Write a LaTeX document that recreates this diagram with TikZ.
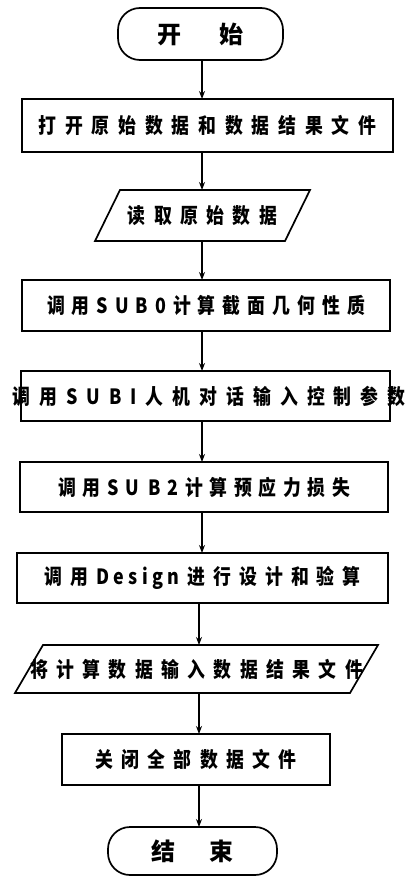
\documentclass[tikz,border=0pt]{standalone}
\usepackage{fontspec}
\usetikzlibrary{arrows.meta}
\newfontfamily\cjk{Noto Sans CJK SC}[FakeStretch=0.85]
\newfontfamily\cjkw{Noto Sans CJK SC}
\newlength\chgap
\newcommand\sgap{\hspace{-3pt}}
\makeatletter
\def\spc#1#2{\setlength\chgap{#1}\spc@first#2\relax}
\def\spc@first#1{#1\spc@rest}
\def\spc@rest#1{\ifx\relax#1\else\hspace{\chgap}#1\expandafter\spc@rest\fi}
\makeatother
\begin{document}
\begin{tikzpicture}[x=1pt,y=-1pt,
  every node/.style={inner sep=0pt,outer sep=0pt},
  outline/.style={line width=1.7pt,line join=miter},
  boxfont/.style={font=\cjk\bfseries\fontsize{21}{24}\selectfont},
  procbox/.style={draw,outline,minimum height=50pt,boxfont},
  iotext/.style={minimum height=50pt,boxfont},
  termbox/.style={draw,outline,rounded corners=22pt,font=\cjkw\bfseries\fontsize{24}{28}\selectfont},
  arr/.style={line width=1.3pt,-{Stealth[length=8pt,width=6pt]}}]
\useasboundingbox (0,0) rectangle (408,877);
\node[termbox,minimum width=165pt,minimum height=52pt] (start) at (200.5,34) {开\hspace{38pt}始};
\node[procbox,minimum width=371pt,minimum height=53pt] (open) at (207.5,125.5) {\spc{8.8pt}{打开原始数据和数据结果文件}};
\node[iotext,minimum width=215pt,minimum height=51pt] (read) at (202.5,215.5) {\spc{8.4pt}{读取原始数据}};
\draw[outline] ([xshift=25pt]read.north west) -- (read.north east) -- ([xshift=-25pt]read.south east) -- (read.south west) -- cycle;
\node[procbox,minimum width=368pt,minimum height=51pt] (sub0) at (206,305.5) {\spc{7pt}{调用SUB0计算截面几何性质}};
\node[procbox,minimum width=369pt] (sub1) at (205.5,396) {};
\node[boxfont] (sub1t) at (209,396) {\spc{9pt}{调用SUBI人机对话输入控制参数}};
\node[procbox,minimum width=368pt] (sub2) at (204,487) {\spc{6.6pt}{调用SU\sgap B2计算预应力损失}};
\node[procbox,minimum width=371pt] (design) at (202.5,578) {\spc{8pt}{调用{{\spc{4.5pt}{Design}}}进行设计和验算}};
\node[iotext,minimum width=363pt,minimum height=48pt] (write) at (196.5,669) {\spc{8.4pt}{将计算数据输入数据结果文件}};
\draw[outline] ([xshift=28pt]write.north west) -- (write.north east) -- ([xshift=-28pt]write.south east) -- (write.south west) -- cycle;
\node[procbox,minimum width=268pt,minimum height=51pt] (close) at (196,759.5) {\spc{8.3pt}{关闭全部数据文件}};
\node[termbox,minimum width=169pt,minimum height=48pt] (end) at (192.5,851) {结\hspace{34pt}束};
\coordinate (axA) at (202,0);
\coordinate (axB) at (199,0);
\draw[arr] (axA |- start.south) -- (axA |- open.north);
\draw[arr] (axA |- open.south) -- (axA |- read.north);
\draw[arr] (axA |- read.south) -- (axA |- sub0.north);
\draw[arr] (axA |- sub0.south) -- (axA |- sub1.north);
\draw[arr] (axA |- sub1.south) -- (axA |- sub2.north);
\draw[arr] (axA |- sub2.south) -- (axA |- design.north);
\draw[arr] (axB |- design.south) -- (axB |- write.north);
\draw[arr] (axB |- write.south) -- (axB |- close.north);
\draw[arr] (axB |- close.south) -- (axB |- end.north);
\end{tikzpicture}
\end{document}
